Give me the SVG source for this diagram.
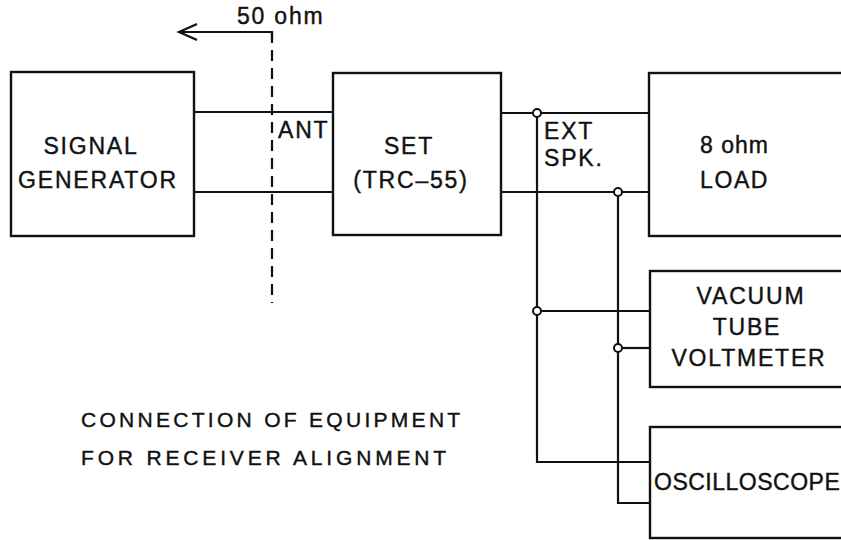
<svg xmlns="http://www.w3.org/2000/svg" width="841" height="540" viewBox="0 0 841 540">
<style>
.box{fill:none;stroke:#111;stroke-width:2.4}
.ln{fill:none;stroke:#111;stroke-width:2.2}
.dot{fill:#fff;stroke:#111;stroke-width:2}
text{font-family:"Liberation Sans",Arial,sans-serif;font-size:23px;fill:#111;stroke:#111;stroke-width:0.4;letter-spacing:1.8px}
.c{text-anchor:middle}
.cap{font-size:21px}
</style>
<rect width="841" height="540" fill="#fff"/>
<g id="connectors">
<line class="ln" x1="194" y1="112" x2="333" y2="112"/>
<line class="ln" x1="194" y1="192" x2="333" y2="192"/>
<line class="ln" x1="501" y1="113" x2="649" y2="113"/>
<line class="ln" x1="501" y1="192" x2="649" y2="192"/>
<polyline class="ln" points="537,113 537,462 650,462"/>
<polyline class="ln" points="618,192 618,503 650,503"/>
<line class="ln" x1="537" y1="311" x2="650" y2="311"/>
<line class="ln" x1="618" y1="348" x2="650" y2="348"/>
<circle class="dot" cx="537" cy="113" r="4"/>
<circle class="dot" cx="618" cy="192" r="4"/>
<circle class="dot" cx="537" cy="311" r="4"/>
<circle class="dot" cx="618" cy="348" r="4"/>
</g>
<g id="reference-plane">
<line class="ln" x1="272" y1="32" x2="272" y2="303" stroke-dasharray="11 7"/>
<polyline class="ln" points="272,40 272,32 179,32"/>
<polyline class="ln" points="197,24 179,32 197,40"/>
<text x="237" y="24">50 ohm</text>
<text x="278" y="138">ANT</text>
</g>
<g id="signal-generator">
<rect class="box" x="11" y="72" width="183" height="164"/>
<text class="c" x="91" y="154">SIGNAL</text>
<text class="c" x="98" y="188">GENERATOR</text>
</g>
<g id="set">
<rect class="box" x="333" y="73" width="168" height="162"/>
<text class="c" x="409" y="154">SET</text>
<text class="c" x="411" y="188">(TRC–55)</text>
</g>
<g id="ext-spk">
<text x="544" y="139">EXT</text>
<text x="544" y="166">SPK.</text>
</g>
<g id="load">
<rect class="box" x="649" y="73" width="250" height="163"/>
<text x="700" y="153" style="letter-spacing:1px">8 ohm</text>
<text x="700" y="188" style="letter-spacing:1.6px">LOAD</text>
</g>
<g id="vtvm">
<rect class="box" x="650" y="271" width="250" height="116"/>
<text class="c" x="751" y="304">VACUUM</text>
<text class="c" x="747" y="335">TUBE</text>
<text class="c" x="749" y="366">VOLTMETER</text>
</g>
<g id="oscilloscope">
<rect class="box" x="650" y="427" width="250" height="111"/>
<text x="654" y="490" style="letter-spacing:0.5px">OSCILLOSCOPE</text>
</g>
<g id="caption">
<text class="cap" x="81" y="427" textLength="381" lengthAdjust="spacing">CONNECTION OF EQUIPMENT</text>
<text class="cap" x="81" y="465" textLength="367" lengthAdjust="spacing">FOR RECEIVER ALIGNMENT</text>
</g>
</svg>
